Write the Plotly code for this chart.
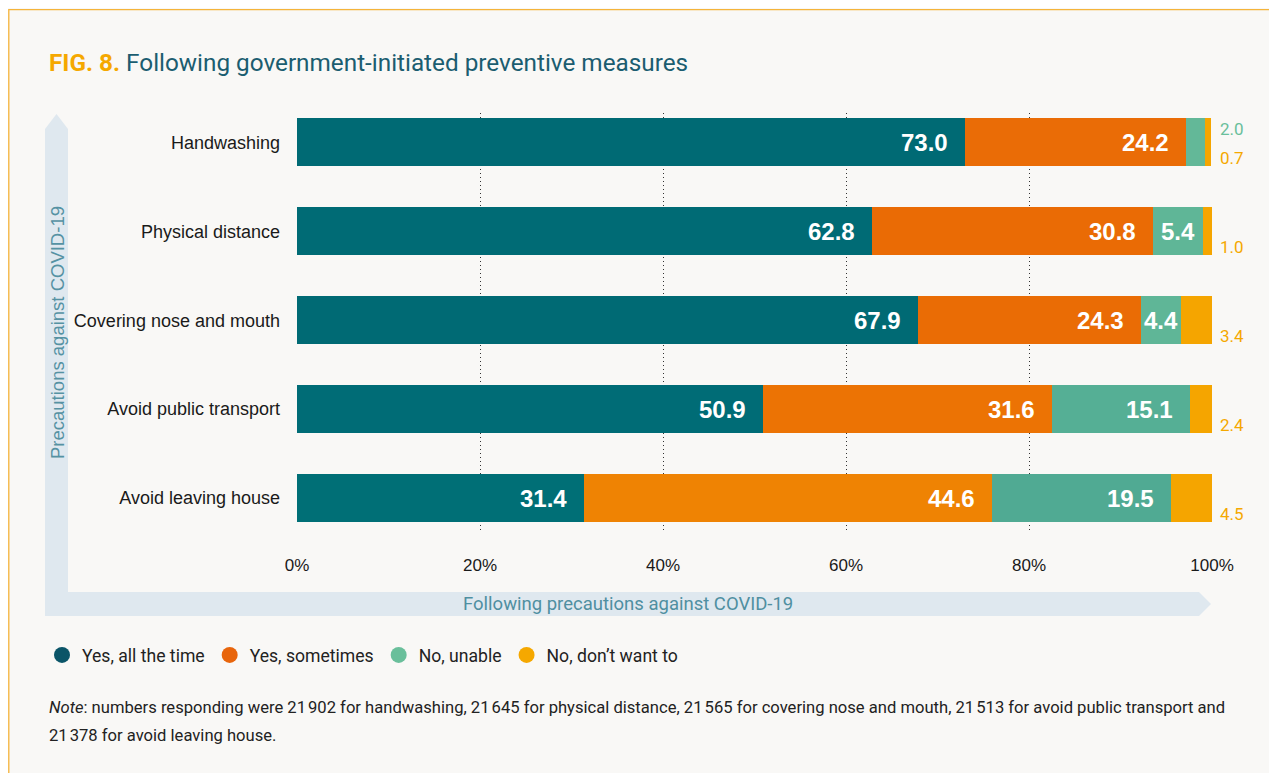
import plotly.graph_objects as go

# ---------------- data ----------------
categories = ["Handwashing", "Physical distance", "Covering nose and mouth",
              "Avoid public transport", "Avoid leaving house"]
series_names = ["Yes, all the time", "Yes, sometimes", "No, unable", "No, don\u2019t want to"]
yes_all_time = [73.0, 62.8, 67.9, 50.9, 31.4]
yes_sometimes = [24.2, 30.8, 24.3, 31.6, 44.6]
no_unable = [2.0, 5.4, 4.4, 15.1, 19.5]
no_dont_want = [0.7, 1.0, 3.4, 2.4, 4.5]
x_tick_values = [0, 20, 40, 60, 80, 100]
x_tick_labels = ["0%", "20%", "40%", "60%", "80%", "100%"]

title_prefix = "FIG. 8."
title_text = "Following government-initiated preventive measures"
y_axis_title = "Precautions against COVID-19"
x_axis_title = "Following precautions against COVID-19"
note_line1 = ("<i>Note</i>: numbers responding were 21\u202f902 for handwashing, 21\u202f645 for physical distance, "
              "21\u202f565 for covering nose and mouth, 21\u202f513 for avoid public transport and")
note_line2 = "21\u202f378 for avoid leaving house."

# ---------------- style ----------------
W, H = 1277, 773
OFF = 8  # page offset of the figure (body margin)
# plot area in page px
PL, PR, PT, PB = 297, 1212, 113, 531
BG = "#f9f8f6"
legend_colors = ["#0b5568", "#e8650c", "#6abf9b", "#f5a800"]
bar_colors = [
    ["#006a74", "#006b75", "#006a74", "#006c76", "#006f76"],
    ["#ea6c06", "#ea6b05", "#ea6c05", "#ec7304", "#ef8303"],
    ["#63b898", "#5fb697", "#5fb697", "#55af95", "#50aa93"],
    ["#f5a500", "#f5a500", "#f5a500", "#f5a500", "#f5a500"],
]
series_values = [yes_all_time, yes_sometimes, no_unable, no_dont_want]
TITLE_FONT = "Roboto"
LABEL_FONT = "Liberation Sans"


def xp(px):
    return (px - PL) / (PR - PL)


def yp(py):
    return (PB - py) / (PB - PT)


fig = go.Figure()

for name, vals, cols in zip(series_names, series_values, bar_colors):
    fig.add_trace(go.Bar(
        y=categories, x=vals, name=name, orientation="h",
        marker=dict(color=cols, line=dict(width=0)),
        width=0.54, showlegend=False, hoverinfo="skip",
    ))

# legend entries as circles
for name, col in zip(series_names, legend_colors):
    fig.add_trace(go.Scatter(
        x=[None], y=[None], mode="markers", name=name,
        marker=dict(symbol="circle", size=20, color=col),
        showlegend=True,
    ))

# ---------------- value labels ----------------
annotations = []
for i, cat in enumerate(categories):
    cum = 0.0
    for s, vals in enumerate(series_values):
        v = vals[i]
        start, end = cum, cum + v
        cum = end
        label = f"{v:.1f}"
        if s < 3 and v >= 4:
            if v >= 10:
                annotations.append(dict(x=end, y=cat, xref="x", yref="y", text=label,
                                        xanchor="right", yanchor="middle", xshift=-15, showarrow=False,
                                        font=dict(family=LABEL_FONT, size=24, color="white", weight="bold")))
            else:
                annotations.append(dict(x=(start + end) / 2, y=cat, xref="x", yref="y", text=label,
                                        xanchor="center", yanchor="middle", showarrow=False,
                                        font=dict(family=LABEL_FONT, size=24, color="white", weight="bold")))
        else:
            shift = 13 if s == 2 else -16
            annotations.append(dict(x=100, y=cat, xref="x", yref="y", text=label,
                                    xanchor="left", yanchor="middle", xshift=6, yshift=shift,
                                    showarrow=False,
                                    font=dict(family=TITLE_FONT, size=17, color=legend_colors[s])))

# title
annotations.append(dict(
    x=xp(47), y=yp(63), xref="paper", yref="paper", xanchor="left", yanchor="middle",
    text=f'<b><span style="color:#f5a800">{title_prefix}</span></b> {title_text}',
    showarrow=False, font=dict(family=TITLE_FONT, size=24.3, color="#1b5d70")))

# axis band labels
annotations.append(dict(
    x=xp(57), y=yp(333), xref="paper", yref="paper", xanchor="center", yanchor="middle",
    text=y_axis_title, textangle=-90, showarrow=False,
    font=dict(family=LABEL_FONT, size=18.5, color="#5592a3")))
annotations.append(dict(
    x=xp(628), y=yp(604), xref="paper", yref="paper", xanchor="center", yanchor="middle",
    text=x_axis_title, showarrow=False,
    font=dict(family=TITLE_FONT, size=18.5, color="#4f8fa1")))

# note
annotations.append(dict(
    x=xp(47), y=yp(707), xref="paper", yref="paper", xanchor="left", yanchor="middle",
    text=note_line1, showarrow=False, font=dict(family=TITLE_FONT, size=16.6, color="#222222")))
annotations.append(dict(
    x=xp(47), y=yp(735), xref="paper", yref="paper", xanchor="left", yanchor="middle",
    text=note_line2, showarrow=False, font=dict(family=TITLE_FONT, size=16.6, color="#222222")))

# ---------------- decorative shapes ----------------
band = "#dfe8ef"
shapes = [
    # orange frame around the panel
    dict(type="rect", xref="paper", yref="paper", x0=xp(8.8), x1=xp(1300), y0=yp(9.6), y1=yp(800),
         fillcolor="rgba(0,0,0,0)", line=dict(color="#f5b43a", width=1.3), layer="above"),
    # vertical arrow band
    dict(type="path", xref="paper", yref="paper", layer="below", fillcolor=band, line=dict(width=0),
         path=(f"M {xp(45)},{yp(593)} L {xp(45)},{yp(129)} L {xp(56.5)},{yp(114)} "
               f"L {xp(68)},{yp(129)} L {xp(68)},{yp(593)} Z")),
    # horizontal arrow band
    dict(type="path", xref="paper", yref="paper", layer="below", fillcolor=band, line=dict(width=0),
         path=(f"M {xp(45)},{yp(592)} L {xp(1199)},{yp(592)} L {xp(1211)},{yp(604)} "
               f"L {xp(1199)},{yp(616)} L {xp(45)},{yp(616)} Z")),
]

fig.update_layout(
    width=W, height=H,
    margin=dict(l=PL - OFF, r=W - (PR - OFF), t=PT - OFF, b=H - (PB - OFF), pad=0),
    paper_bgcolor=BG, plot_bgcolor="rgba(0,0,0,0)",
    barmode="stack", bargap=0,
    showlegend=True,
    legend=dict(orientation="h", x=xp(42), y=yp(655), xanchor="left", yanchor="middle",
                traceorder="normal",
                bgcolor="rgba(0,0,0,0)", font=dict(family=TITLE_FONT, size=17.6, color="#222222"),
                itemclick=False, itemdoubleclick=False, tracegroupgap=0),
    xaxis=dict(range=[0, 100], tickvals=x_tick_values, ticktext=x_tick_labels,
               showgrid=True, gridcolor="#333333", griddash="1px,3px", gridwidth=1,
               zeroline=False, showline=False, ticks="", ticklabelstandoff=22,
               tickfont=dict(family=LABEL_FONT, size=17, color="#1a1a1a"), fixedrange=True),
    yaxis=dict(type="category", categoryorder="array", categoryarray=categories,
               range=[4.37, -0.33], showgrid=False, zeroline=False, showline=False, ticks="",
               ticklabelstandoff=16,
               tickfont=dict(family=LABEL_FONT, size=18, color="#1a1a1a"), fixedrange=True),
    annotations=annotations,
    shapes=shapes,
)

fig.write_html("out.html")
